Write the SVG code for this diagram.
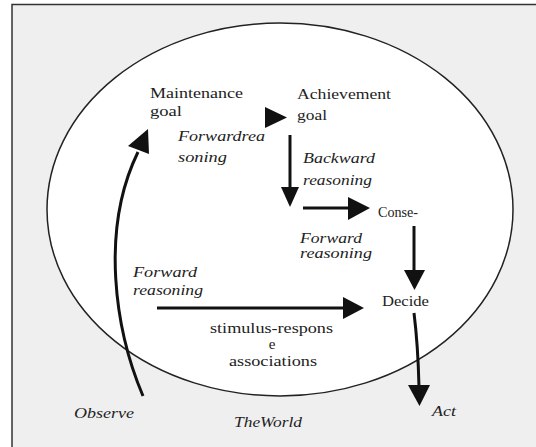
<svg xmlns="http://www.w3.org/2000/svg" width="536" height="447" viewBox="0 0 536 447">
  <style>
    .t { font-size: 15px; fill: #222; }
    .i { font-style: italic; }
    .ln { fill: none; stroke: #111; stroke-width: 3; }
    .hd { fill: #111; stroke: none; }
  </style>
  <rect x="0" y="0" width="536" height="447" fill="#ffffff"/>
  <rect id="frame" x="12" y="4.5" width="540" height="460" fill="#efefef" stroke="#333" stroke-width="1.5"/>
  <g id="world">
    <ellipse cx="280" cy="209.5" rx="233" ry="186.5" fill="#ffffff" stroke="#222" stroke-width="1.5"/>
  </g>

  <g id="connectors">
    <path class="ln" d="M143,396 C115,330 100,230 138,152"/>
    <polygon class="hd" points="128,146 149,154 148,129"/>
    <polygon class="hd" points="265,107 265,128 287,117.5"/>
    <path class="ln" d="M290,135 L290,189"/>
    <polygon class="hd" points="281,187 299,187 290,207"/>
    <path class="ln" d="M303,208 L350,208"/>
    <polygon class="hd" points="348,197 348,220 370,208"/>
    <path class="ln" d="M414,226 L414,272"/>
    <polygon class="hd" points="404,270 425,270 414.5,290"/>
    <path class="ln" d="M157,308 L345,308"/>
    <polygon class="hd" points="343,297 343,319 364,308"/>
    <path class="ln" d="M414,313 Q418,345 419,387"/>
    <polygon class="hd" points="408,385 430,385 419.5,406"/>
  </g>

  <g font-family="Liberation Serif, Times New Roman, serif">
  <g id="maintenance-goal">
    <text class="t" x="150" y="98" textLength="93" lengthAdjust="spacingAndGlyphs">Maintenance</text>
    <text class="t" x="150" y="116" textLength="32" lengthAdjust="spacingAndGlyphs">goal</text>
  </g>
  <g id="achievement-goal">
    <text class="t" x="297" y="99" textLength="94" lengthAdjust="spacingAndGlyphs">Achievement</text>
    <text class="t" x="297" y="120" textLength="30" lengthAdjust="spacingAndGlyphs">goal</text>
  </g>
  <g id="label-forwardreasoning-top">
    <text class="t i" x="178" y="141" textLength="87" lengthAdjust="spacingAndGlyphs">Forwardrea</text>
    <text class="t i" x="178" y="162" textLength="49" lengthAdjust="spacingAndGlyphs">soning</text>
  </g>
  <g id="label-backward">
    <text class="t i" x="303" y="163" textLength="72" lengthAdjust="spacingAndGlyphs">Backward</text>
    <text class="t i" x="303" y="185" textLength="69" lengthAdjust="spacingAndGlyphs">reasoning</text>
  </g>
  <g id="conse">
    <text class="t" x="378" y="217" textLength="40" lengthAdjust="spacingAndGlyphs">Conse-</text>
  </g>
  <g id="label-forward-right">
    <text class="t i" x="300" y="243" textLength="62" lengthAdjust="spacingAndGlyphs">Forward</text>
    <text class="t i" x="300" y="258" textLength="72" lengthAdjust="spacingAndGlyphs">reasoning</text>
  </g>
  <g id="label-forward-left">
    <text class="t i" x="133" y="277" textLength="64" lengthAdjust="spacingAndGlyphs">Forward</text>
    <text class="t i" x="133" y="295" textLength="70" lengthAdjust="spacingAndGlyphs">reasoning</text>
  </g>
  <g id="decide">
    <text class="t" x="382" y="306" textLength="47" lengthAdjust="spacingAndGlyphs">Decide</text>
  </g>
  <g id="label-stimulus">
    <text class="t" x="210" y="333" textLength="123" lengthAdjust="spacingAndGlyphs">stimulus-respons</text>
    <text class="t" x="272" y="349" text-anchor="middle">e</text>
    <text class="t" x="229" y="366" textLength="88" lengthAdjust="spacingAndGlyphs">associations</text>
  </g>
  <g id="observe">
    <text class="t i" x="74" y="418" textLength="60" lengthAdjust="spacingAndGlyphs">Observe</text>
  </g>
  <g id="theworld">
    <text class="t i" x="234" y="427" textLength="68" lengthAdjust="spacingAndGlyphs">TheWorld</text>
  </g>
  <g id="act">
    <text class="t i" x="432" y="416" textLength="24" lengthAdjust="spacingAndGlyphs">Act</text>
  </g>
  </g>
</svg>
